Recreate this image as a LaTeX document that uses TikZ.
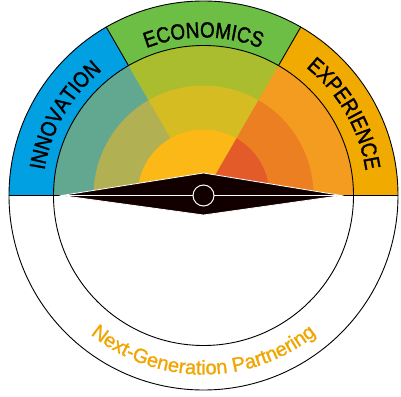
\documentclass[tikz,border=0pt]{standalone}
\usepackage{fontspec}
\usetikzlibrary{decorations.text}
\newfontfamily\gaugefont[FakeStretch=0.86, FakeBold=1.5]{Liberation Sans}
\newfontfamily\partnerfont[FakeBold=1.2]{Liberation Sans}
\definecolor{innovblue}{HTML}{00A0E2}
\definecolor{econgreen}{HTML}{6CBE45}
\definecolor{experamber}{HTML}{F0AA00}
\definecolor{ringteal}{HTML}{62A78F}
\definecolor{ringlime}{HTML}{A9BD2F}
\definecolor{ringorange}{HTML}{F39C1F}
\definecolor{midolive}{HTML}{B1B052}
\definecolor{midgold}{HTML}{D4BC22}
\definecolor{midorange}{HTML}{EC7F22}
\definecolor{coreyellow}{HTML}{FBB817}
\definecolor{corered}{HTML}{E25B28}
\definecolor{needle}{HTML}{120000}
\definecolor{partnertext}{HTML}{F0A500}
\begin{document}
\begin{tikzpicture}[x=1pt, y=1pt,
    bandlabel/.style={decorate, decoration={text along path, text align=center,
        text color=black, text={|\gaugefont\fontsize{22}{22}\selectfont|#1}}}]
            \useasboundingbox (-203.5,-200.5) rectangle (197.5,195.5);
            \fill [innovblue] (0,0) -- (180:194.5) arc (180:120:194.5) -- cycle;
            \fill [econgreen] (0,0) -- (120:194.5) arc (120:60:194.5) -- cycle;
            \fill [experamber] (0,0) -- (60:194.5) arc (60:0:194.5) -- cycle;
            \fill [ringteal] (0,0) -- (180:150) arc (180:120:150) -- cycle;
            \fill [ringlime] (0,0) -- (120:150) arc (120:60:150) -- cycle;
            \fill [ringorange] (0,0) -- (60:150) arc (60:0:150) -- cycle;
            \fill [midolive] (0,0) -- (180:110) arc (180:120:110) -- cycle;
            \fill [midgold] (0,0) -- (120:110) arc (120:60:110) -- cycle;
            \fill [midorange] (0,0) -- (60:110) arc (60:0:110) -- cycle;
            \fill [coreyellow] (0,0) -- (180:66) arc (180:60:66) -- cycle;
            \fill [corered] (0,0) -- (60:66) arc (60:0:66) -- cycle;
            \draw [line width=0.9] (120:150) -- (120:194.5);
            \draw [line width=0.9] (60:150) -- (60:194.5);
            \draw [line width=0.9] (0,0) circle (150);
            \draw [line width=0.9] (0,0) circle (194.5);
            \draw [line width=0.9] (-194.5,0) -- (194.5,0);
            \draw [white, line width=0.8, fill=needle] (-142,0) -- (0,22.5) -- (138,0) -- (0,-19.5) -- cycle;
            \draw [white, line width=0.8] (-142,0) -- (138,0);
            \draw [white, line width=1, fill=needle] (0,0) circle (10.5);
            \path [bandlabel=INNOVATION] (180:161) arc (180:120:161);
            \path [bandlabel=ECONOMICS] (120:158) arc (120:60:158);
            \path [bandlabel=EXPERIENCE] (60:164) arc (60:0:164);
            \path [decorate, decoration={text along path, text align=center, text color=partnertext,
                text={|\partnerfont\fontsize{20}{20}\selectfont|Next-Generation Partnering}}]
                (200:179) arc (200:340:179);
        \end{tikzpicture}
\end{document}
